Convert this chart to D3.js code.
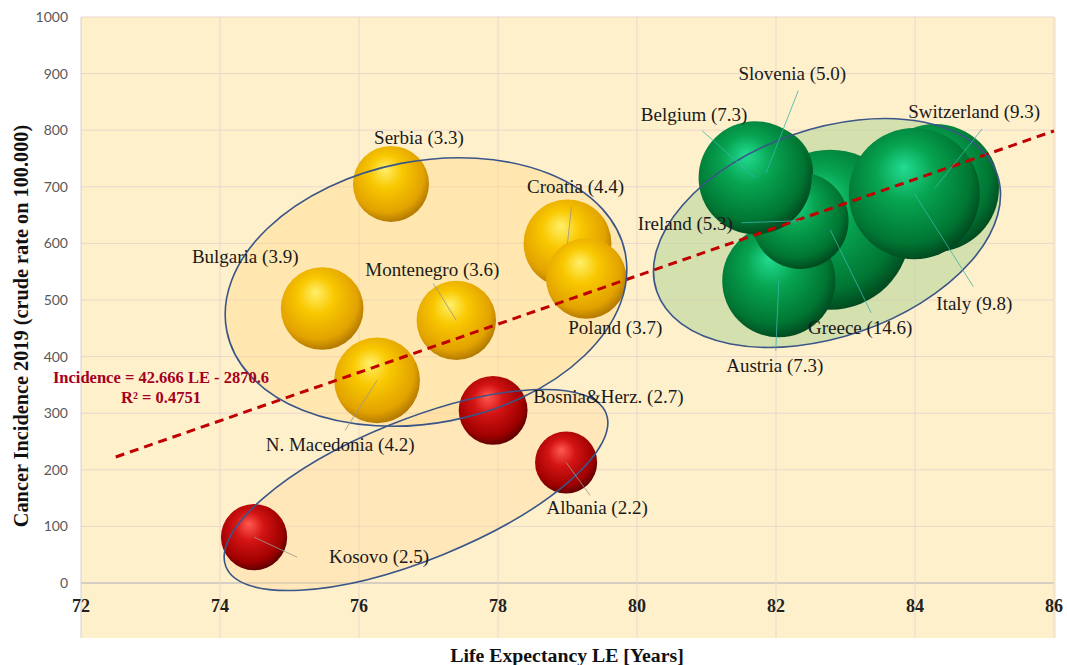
<!DOCTYPE html>
<html>
<head>
<meta charset="utf-8">
<script src="https://cdn.jsdelivr.net/npm/d3@7"></script>
<style>
  body { margin: 0; background: #fff; }
  svg { display: block; }
</style>
</head>
<body>
<div id="chart"></div>
<script>
/* global d3 */

// data
const countries = ['Greece', 'Switzerland', 'Slovenia', 'Austria', 'Ireland', 'Belgium', 'Italy',
  'Croatia', 'Poland', 'Serbia', 'Bulgaria', 'Montenegro', 'N. Macedonia',
  'Bosnia&Herz.', 'Albania', 'Kosovo'];
const lifeExpectancy = [82.78, 84.29, 81.86, 82.04, 82.35, 81.70, 83.99,
  79.00, 79.27, 76.46, 75.47, 77.40, 76.26,
  77.93, 78.98, 74.49];
const incidence = [624, 698, 725, 534, 640, 716, 688,
  600, 538, 705, 485, 464, 358,
  305, 213, 81];
const bubbleSize = [14.6, 9.3, 5.0, 7.3, 5.3, 7.3, 9.8,
  4.4, 3.7, 3.3, 3.9, 3.6, 4.2,
  2.7, 2.2, 2.5];
const groups = ['green', 'green', 'green', 'green', 'green', 'green', 'green',
  'gold', 'gold', 'gold', 'gold', 'gold', 'gold',
  'red', 'red', 'red'];

const xTicks = [72, 74, 76, 78, 80, 82, 84, 86];
const yTicks = [0, 100, 200, 300, 400, 500, 600, 700, 800, 900, 1000];
const trendSlope = 42.666;
const trendIntercept = -2870.6;
const trendRange = [72.5, 86];

// label placement in pixels relative to bubble centre (layout only)
const labelOffsets = {
  Greece: [30, 98, 'middle'],
  Switzerland: [39, -76, 'middle'],
  Slovenia: [26, -99, 'middle'],
  Austria: [-4, 85, 'middle'],
  Ireland: [-115, 3, 'middle'],
  Belgium: [-61, -63, 'middle'],
  Italy: [60, 110, 'middle'],
  Croatia: [8, -56, 'middle'],
  Poland: [29, 50, 'middle'],
  Serbia: [28, -46, 'middle'],
  Bulgaria: [-77, -51, 'middle'],
  Montenegro: [-24, -50, 'middle'],
  'N. Macedonia': [-37, 65, 'middle'],
  'Bosnia&Herz.': [40, -13, 'start'],
  Albania: [31, 46, 'middle'],
  Kosovo: [125, 20, 'middle'],
};
// end of leader line near the label
const leaderEnds = {
  Greece: [41, 83], Switzerland: [47, -59], Slovenia: [32, -82], Austria: [-3, 70],
  Ireland: [-59, 2], Belgium: [-53, -47], Italy: [59, 93], Croatia: [4, -37],
  Montenegro: [-23, -37], 'N. Macedonia': [-32, 50], Albania: [24, 33], Kosovo: [43, 20],
};

const width = 1067;
const height = 665;
const margin = { left: 81, right: 13, top: 17, bottom: 82 };

const x = d3.scaleLinear().domain([72, 86]).range([margin.left, width - margin.right]);
const y = d3.scaleLinear().domain([0, 1000]).range([height - margin.bottom, margin.top]);
const r = d3.scaleSqrt().domain([0, 14.6]).range([0, 80]);

const svg = d3.select('#chart')
  .append('svg')
  .attr('width', width)
  .attr('height', height);

const defs = svg.append('defs');
const palettes = {
  gold: ['#FFF06A', '#F9C800', '#E2A200', '#A66E00'],
  red: ['#FF5A50', '#D41414', '#A00000', '#4E0000'],
  green: ['#22DC92', '#07A552', '#007633', '#003F1A'],
};
Object.keys(palettes).forEach((k) => {
  const g = defs.append('radialGradient')
    .attr('id', `grad-${k}`)
    .attr('cx', '0.45').attr('cy', '0.42').attr('r', '0.62')
    .attr('fx', '0.42').attr('fy', '0.3');
  [0, 0.35, 0.78, 1].forEach((o, i) => {
    g.append('stop').attr('offset', o).attr('stop-color', palettes[k][i]);
  });
});

// plot background
svg.append('rect')
  .attr('x', margin.left)
  .attr('y', margin.top)
  .attr('width', width - margin.right - margin.left + 2)
  .attr('height', 621)
  .attr('fill', '#FFF0CC');

// gridlines
svg.append('g')
  .selectAll('line')
  .data(yTicks)
  .join('line')
  .attr('x1', margin.left)
  .attr('x2', width - margin.right)
  .attr('y1', (d) => y(d))
  .attr('y2', (d) => y(d))
  .attr('stroke', (d) => (d === 0 ? '#C9C3C0' : '#EBD6CC'))
  .attr('stroke-width', (d) => (d === 0 ? 1.5 : 1));

svg.append('g')
  .selectAll('line')
  .data(xTicks)
  .join('line')
  .attr('x1', (d) => x(d))
  .attr('x2', (d) => x(d))
  .attr('y1', margin.top)
  .attr('y2', margin.top + 621)
  .attr('stroke', (d) => (d === 72 ? '#D5D0CC' : '#EBD6CC'))
  .attr('stroke-width', 1);

// y tick labels
svg.append('g')
  .selectAll('text')
  .data(yTicks)
  .join('text')
  .attr('x', 68)
  .attr('y', (d) => y(d) + 5)
  .attr('text-anchor', 'end')
  .style('font-family', 'Lato, "Open Sans", sans-serif')
  .style('font-size', '14px')
  .attr('fill', '#595959')
  .text((d) => d);

// x tick labels
svg.append('g')
  .selectAll('text')
  .data(xTicks)
  .join('text')
  .attr('x', (d) => x(d))
  .attr('y', 612)
  .attr('text-anchor', 'middle')
  .style('font-family', '"Liberation Serif", "DejaVu Serif", serif')
  .style('font-weight', 'bold')
  .style('font-size', '18px')
  .attr('fill', '#222')
  .text((d) => d);

// axis titles
svg.append('text')
  .attr('transform', `translate(28 ${326}) rotate(-90)`)
  .attr('text-anchor', 'middle')
  .style('font-family', '"Liberation Serif", serif')
  .style('font-weight', 'bold')
  .style('font-size', '20.3px')
  .attr('fill', '#111')
  .text('Cancer Incidence 2019 (crude rate on 100.000)');

svg.append('text')
  .attr('x', 567)
  .attr('y', 662)
  .attr('text-anchor', 'middle')
  .style('font-family', '"Liberation Serif", serif')
  .style('font-weight', 'bold')
  .style('font-size', '19.8px')
  .attr('fill', '#111')
  .text('Life Expectancy LE [Years]');

// group ellipses (fill under bubbles, outline above)
const ellipses = [
  { cx: 426, cy: 292, rx: 203, ry: 131, rot: -11, fill: 'rgba(255, 214, 120, 0.35)' },
  { cx: 416, cy: 490, rx: 205, ry: 70, rot: -22, fill: 'rgba(255, 214, 150, 0.35)' },
  { cx: 827, cy: 233, rx: 180, ry: 104, rot: -19, fill: 'rgba(190, 215, 160, 0.65)' },
];
const ellipseFill = svg.append('g');
ellipses.forEach((e) => {
  ellipseFill.append('ellipse')
    .attr('transform', `translate(${e.cx} ${e.cy}) rotate(${e.rot})`)
    .attr('rx', e.rx)
    .attr('ry', e.ry)
    .attr('fill', e.fill);
});

// bubbles
const points = countries.map((c, i) => ({
  name: c,
  le: lifeExpectancy[i],
  inc: incidence[i],
  size: bubbleSize[i],
  group: groups[i],
}));

svg.append('g')
  .selectAll('circle')
  .data(points)
  .join('circle')
  .attr('cx', (d) => x(d.le))
  .attr('cy', (d) => y(d.inc))
  .attr('r', (d) => r(d.size))
  .attr('fill', (d) => `url(#grad-${d.group})`);

// trend line
svg.append('line')
  .attr('x1', x(trendRange[0]))
  .attr('y1', y(trendSlope * trendRange[0] + trendIntercept))
  .attr('x2', x(trendRange[1]))
  .attr('y2', y(trendSlope * trendRange[1] + trendIntercept))
  .attr('stroke', '#C00000')
  .attr('stroke-width', 3)
  .attr('stroke-dasharray', '9 6');

const ellipseLine = svg.append('g');
ellipses.forEach((e) => {
  ellipseLine.append('ellipse')
    .attr('transform', `translate(${e.cx} ${e.cy}) rotate(${e.rot})`)
    .attr('rx', e.rx)
    .attr('ry', e.ry)
    .attr('fill', 'none')
    .attr('stroke', '#3A5588')
    .attr('stroke-width', 1.6);
});

// leader lines
svg.append('g')
  .selectAll('line')
  .data(points.filter((d) => leaderEnds[d.name]))
  .join('line')
  .attr('x1', (d) => x(d.le))
  .attr('y1', (d) => y(d.inc))
  .attr('x2', (d) => x(d.le) + leaderEnds[d.name][0])
  .attr('y2', (d) => y(d.inc) + leaderEnds[d.name][1])
  .attr('stroke', (d) => (d.group === 'green' ? 'rgba(60, 180, 170, 0.8)' : 'rgba(160, 150, 140, 0.85)'))
  .attr('stroke-width', 1);

// data labels
svg.append('g')
  .selectAll('text')
  .data(points)
  .join('text')
  .attr('x', (d) => x(d.le) + labelOffsets[d.name][0])
  .attr('y', (d) => y(d.inc) + labelOffsets[d.name][1] + 6)
  .attr('text-anchor', (d) => labelOffsets[d.name][2])
  .style('font-family', '"Liberation Serif", serif')
  .style('font-size', '19px')
  .attr('fill', '#1a1a1a')
  .text((d) => `${d.name} (${d.size.toFixed(1)})`);

// regression equation
const eq = svg.append('g')
  .style('font-family', '"Liberation Serif", serif')
  .style('font-weight', 'bold')
  .style('font-size', '16.5px')
  .attr('fill', '#A50021')
  .attr('text-anchor', 'middle');
eq.append('text').attr('x', 161).attr('y', 383).text('Incidence = 42.666 LE - 2870.6');
eq.append('text').attr('x', 161).attr('y', 403).text('R² = 0.4751');
</script>
</body>
</html>
